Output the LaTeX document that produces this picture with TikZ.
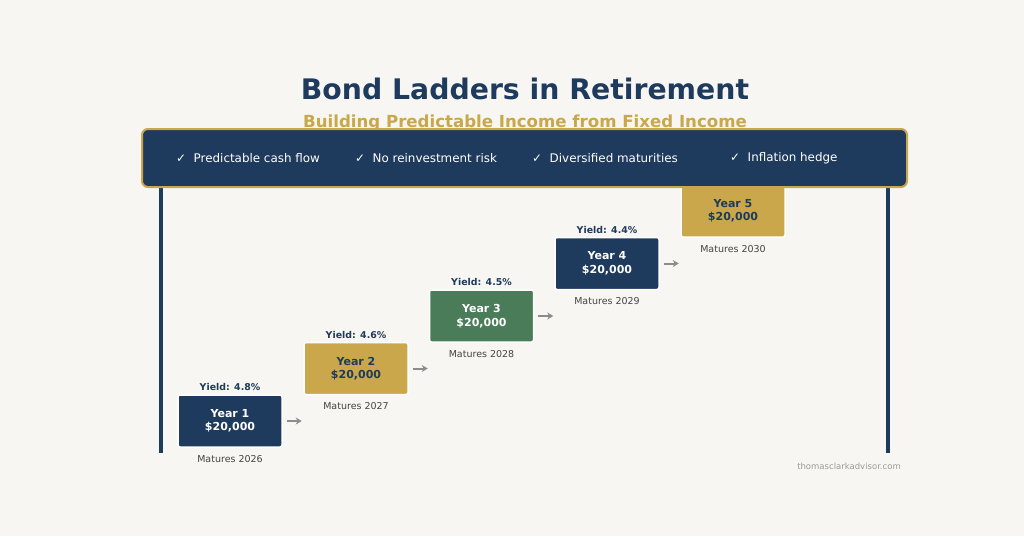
\documentclass[tikz,border=0pt]{standalone}
\usepackage{fontspec}
\setmainfont{DejaVu Sans}
\usetikzlibrary{calc,arrows.meta}
\definecolor{bg}{HTML}{F7F6F2}
\definecolor{navy}{HTML}{1E3A5C}
\definecolor{gold}{HTML}{C9A74A}
\definecolor{sage}{HTML}{4A7C59}
\definecolor{arrgray}{HTML}{8C8C8C}
\definecolor{txtgray}{HTML}{444444}
\definecolor{wmgray}{HTML}{9A9A9A}
\tikzset{
  bondbox/.style={rectangle, rounded corners=2pt, draw=white, line width=1.5pt,
    minimum width=104pt, minimum height=52pt, inner sep=0pt, align=center,
    font=\bfseries\fontsize{11}{13.5}\selectfont},
  yieldlbl/.style={anchor=base, inner sep=0pt, text=navy, font=\bfseries\fontsize{9.4}{11}\selectfont},
  maturelbl/.style={anchor=base, inner sep=0pt, text=txtgray, font=\fontsize{9.5}{11}\selectfont},
  steparrow/.style={draw=arrgray, line width=2pt, -{Stealth[length=6pt,width=7pt]}},
  post/.style={draw=navy, line width=4pt},
  featitem/.style={anchor=west, inner sep=0pt, text=white, font=\fontsize{11.9}{14}\selectfont},
}
\begin{document}
\begin{tikzpicture}[x=1pt,y=-1pt]
\fill[bg] (0,0) rectangle (1024,536);
\useasboundingbox (0,0) rectangle (1024,536);

% posts
\coordinate (lpt) at (161,183); \coordinate (lpb) at (161,453);
\coordinate (rpt) at (888,183); \coordinate (rpb) at (888,453);
\draw[post] (lpt) -- (lpb);
\draw[post] (rpt) -- (rpb);

% boxes
\node[bondbox, fill=navy, text=white] (y1) at (230,421) {Year 1\\\$20,000};
\node[bondbox, fill=gold, text=navy] (y2) at (356,368.5) {Year 2\\\$20,000};
\node[bondbox, fill=sage, text=white] (y3) at (481.5,316) {Year 3\\\$20,000};
\node[bondbox, fill=navy, text=white] (y4) at (607,263.5) {Year 4\\\$20,000};
\node[bondbox, fill=gold, text=navy] (y5) at (733,211) {Year 5\\\$20,000};

% yields
\node[yieldlbl] (l1) at ($(y1.north)+(0,-3.5)$) {Yield: 4.8\%};
\node[yieldlbl] (l2) at ($(y2.north)+(0,-3.5)$) {Yield: 4.6\%};
\node[yieldlbl] (l3) at ($(y3.north)+(0,-3.5)$) {Yield: 4.5\%};
\node[yieldlbl] (l4) at ($(y4.north)+(0,-3.5)$) {Yield: 4.4\%};

% maturities
\node[maturelbl] (m1) at ($(y1.south)+(0,14.5)$) {Matures 2026};
\node[maturelbl] (m2) at ($(y2.south)+(0,14.5)$) {Matures 2027};
\node[maturelbl] (m3) at ($(y3.south)+(0,14.5)$) {Matures 2028};
\node[maturelbl] (m4) at ($(y4.south)+(0,14.5)$) {Matures 2029};
\node[maturelbl] (m5) at ($(y5.south)+(0,14.5)$) {Matures 2030};

% arrows
\foreach \b in {y1,y2,y3,y4}{
  \coordinate (\b a) at ($(\b.east)+(4,0)$);
  \coordinate (\b b) at ($(\b.east)+(19,0)$);
  \draw[steparrow] (\b a) -- (\b b);
}

% title
\node[text=navy, font=\bfseries\fontsize{28.3}{32}\selectfont] (title) at (525,88.5) {Bond Ladders in Retirement};
\node[text=gold, font=\bfseries\fontsize{16.6}{19}\selectfont] (sub) at (525,122.5) {Building Predictable Income from Fixed Income};

% banner
\draw[fill=navy, draw=gold, line width=2pt, rounded corners=6pt] (142,129) rectangle (907,187);
\node[featitem] (f1) at (176,158) {✓\ \ Predictable cash flow};
\node[featitem] (f2) at (355,158) {✓\ \ No reinvestment risk};
\node[featitem] (f3) at (532,158) {✓\ \ Diversified maturities};
\node[featitem] (f4) at (730,158) {✓\ \ Inflation hedge};

% watermark
\node[anchor=east, inner sep=0pt, text=wmgray, font=\fontsize{8.5}{10}\selectfont] (wm) at (901,466) {thomasclarkadvisor.com};
\end{tikzpicture}
\end{document}
